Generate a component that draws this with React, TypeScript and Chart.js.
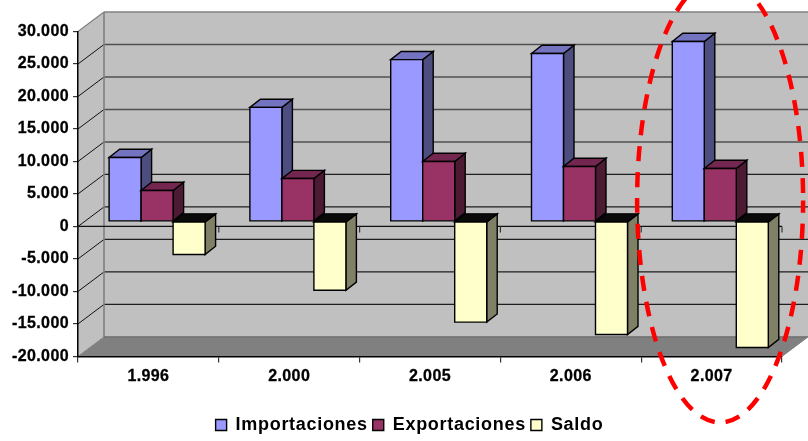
import React, { useEffect, useRef } from "react";
import { Chart, registerables } from "chart.js";

Chart.register(...registerables);

const years = ["1.996", "2.000", "2.005", "2.006", "2.007"];
const importaciones = [9850, 17550, 24900, 25850, 27700];
const exportaciones = [4770, 6600, 9230, 8460, 8150];
const saldo = [-5080, -10600, -15500, -17400, -19400];

const FONT = "'Liberation Sans', Arial, sans-serif";
const DEPTH_X = 26;
const DEPTH_Y = 19.5;
const BAR_SHIFT_X = 8.7;
const BAR_SHIFT_Y = 5;
const BAR_DEPTH_X = 10.5;
const BAR_DEPTH_Y = 8.2;

const faces: Record<string, { front: string; side: string; top: string }> = {
  Importaciones: { front: "#9999FF", side: "#4D4D80", top: "#7373BF" },
  Exportaciones: { front: "#993366", side: "#4D1A33", top: "#732650" },
  Saldo: { front: "#FFFFCC", side: "#808066", top: "#0A0A0A" },
};

function poly(ctx: CanvasRenderingContext2D, pts: number[][], fill?: string, stroke?: string, lw = 1) {
  ctx.beginPath();
  pts.forEach((p, i) => (i ? ctx.lineTo(p[0], p[1]) : ctx.moveTo(p[0], p[1])));
  ctx.closePath();
  if (fill) {
    ctx.fillStyle = fill;
    ctx.fill();
  }
  if (stroke) {
    ctx.strokeStyle = stroke;
    ctx.lineWidth = lw;
    ctx.stroke();
  }
}

function seg(ctx: CanvasRenderingContext2D, x1: number, y1: number, x2: number, y2: number, color: string, lw: number) {
  ctx.beginPath();
  ctx.moveTo(x1, y1);
  ctx.lineTo(x2, y2);
  ctx.strokeStyle = color;
  ctx.lineWidth = lw;
  ctx.stroke();
}

const box3d = {
  id: "box3d",
  beforeLayout(chart: any) {
    chart.ctx.letterSpacing = "0.7px";
    const legend = chart.legend;
    if (legend && !legend.__wrapped) {
      legend.__wrapped = true;
      const draw = legend.draw.bind(legend);
      legend.draw = (area: any) => {
        chart.ctx.save();
        chart.ctx.letterSpacing = "0.7px";
        draw(area);
        chart.ctx.restore();
      };
    }
  },
  afterLayout(chart: any) {
    const legend = chart.legend;
    const wanted = 409.5;
    const w = legend.right - legend.left;
    legend.left = wanted - w / 2;
    legend.right = wanted + w / 2;
    legend.top = 411;
    legend.bottom = legend.top + legend.height;
  },
  beforeDraw(chart: any) {
    const { ctx, chartArea: a, scales } = chart;
    const y = scales.y;
    ctx.letterSpacing = "0.4px";
    ctx.save();
    const L = a.left, R = a.right, T = a.top, B = a.bottom;
    // side wall, back wall, floor
    poly(ctx, [[L, T], [L + DEPTH_X, T - DEPTH_Y], [L + DEPTH_X, B - DEPTH_Y], [L, B]], "#C0C0C0");
    poly(ctx, [[L + DEPTH_X, T - DEPTH_Y], [R + DEPTH_X, T - DEPTH_Y], [R + DEPTH_X, B - DEPTH_Y], [L + DEPTH_X, B - DEPTH_Y]], "#C0C0C0");
    poly(ctx, [[L, B], [R, B], [R + DEPTH_X, B - DEPTH_Y], [L + DEPTH_X, B - DEPTH_Y]], "#808080");
    // gridlines
    y.ticks.forEach((t: any) => {
      const py = y.getPixelForValue(t.value);
      const isEdge = t.value === y.max || t.value === y.min;
      if (!isEdge) {
        seg(ctx, L + DEPTH_X, py - DEPTH_Y, R + DEPTH_X, py - DEPTH_Y, t.value > 5000 ? "#505050" : "#1E1E1E", t.value > 5000 ? 1.6 : 1.2);
        seg(ctx, L, py, L + DEPTH_X, py - DEPTH_Y, "#111111", 1);
      }
    });
    seg(ctx, L + DEPTH_X, T - DEPTH_Y, R + DEPTH_X, T - DEPTH_Y, "#808080", 1.6);
    seg(ctx, L, T, L + DEPTH_X, T - DEPTH_Y, "#808080", 1.2);
    seg(ctx, L + DEPTH_X, T - DEPTH_Y, L + DEPTH_X, B - DEPTH_Y, "#808080", 1.6);
    seg(ctx, L + DEPTH_X, B - DEPTH_Y, R + DEPTH_X, B - DEPTH_Y, "#6A6A6A", 1.2);
    seg(ctx, L, B, L + DEPTH_X, B - DEPTH_Y, "#808080", 1);
    seg(ctx, R, B, R + DEPTH_X, B - DEPTH_Y, "#808080", 1);
    ctx.restore();
  },
  beforeDatasetsDraw(chart: any) {
    const { ctx, chartArea: a, scales } = chart;
    const y0 = scales.y.getPixelForValue(0);
    const x = scales.x;
    const band = x.width / years.length;
    ctx.save();
    ctx.lineJoin = "miter";
    seg(ctx, a.left, y0, a.right, y0, "#111111", 1.2);
    for (let i = 0; i <= years.length; i++) {
      const px = a.left + i * band;
      seg(ctx, px, y0, px, y0 + 6, "#333333", 1.2);
    }
    chart.data.datasets.forEach((ds: any, di: number) => {
      const f = faces[ds.label];
      chart.getDatasetMeta(di).data.forEach((el: any) => {
        const p = el.getProps(["x", "y", "base", "width"], true);
        const x1 = p.x - p.width / 2 + BAR_SHIFT_X;
        const x2 = p.x + p.width / 2 + BAR_SHIFT_X;
        const top = Math.min(p.y, p.base) - BAR_SHIFT_Y;
        const bot = Math.max(p.y, p.base) - BAR_SHIFT_Y;
        const dx = BAR_DEPTH_X, dy = BAR_DEPTH_Y;
        poly(ctx, [[x2, top], [x2 + dx, top - dy], [x2 + dx, bot - dy], [x2, bot]], f.side, "#000", 1.4);
        poly(ctx, [[x1, top], [x2, top], [x2 + dx, top - dy], [x1 + dx, top - dy]], f.top, "#000", 1.4);
        poly(ctx, [[x1, top], [x2, top], [x2, bot], [x1, bot]], f.front, "#000", 1.4);
      });
    });
    ctx.restore();
    return false;
  },
  afterDraw(chart: any) {
    const { ctx, scales } = chart;
    const cx = scales.x.getPixelForValue(4) + 8.5;
    const cy = scales.y.getPixelForValue(4000);
    ctx.save();
    ctx.beginPath();
    ctx.ellipse(cx, cy, 83, 222, 0, 0, Math.PI * 2);
    ctx.setLineDash([15, 11]);
    ctx.lineDashOffset = 2.5;
    ctx.lineWidth = 4.5;
    ctx.strokeStyle = "#FF0000";
    ctx.stroke();
    ctx.restore();
  },
};

export default function App() {
  const ref = useRef<HTMLCanvasElement>(null);
  useEffect(() => {
    document.body.style.margin = "0";
    const tickFont = { family: FONT, size: 16, weight: "bold" };
    const chart = new Chart(ref.current as HTMLCanvasElement, {
      type: "bar",
      data: {
        labels: years,
        datasets: [
          { label: "Importaciones", data: importaciones, backgroundColor: "#9999FF", borderColor: "#000", borderWidth: 1.4 },
          { label: "Exportaciones", data: exportaciones, backgroundColor: "#993366", borderColor: "#000", borderWidth: 1.4 },
          { label: "Saldo", data: saldo, backgroundColor: "#FFFFCC", borderColor: "#000", borderWidth: 1.4 },
        ],
      },
      options: {
        animation: false,
        responsive: false,
        devicePixelRatio: 1,
        layout: { padding: { left: 0, right: 26, top: 31.5, bottom: 0 } },
        datasets: { bar: { categoryPercentage: 96 / 140.8, barPercentage: 1 } },
        plugins: {
          tooltip: { enabled: false },
          legend: {
            position: "bottom",
            labels: {
              boxWidth: 11,
              boxHeight: 11,
              padding: 5,
              color: "#000",
              font: { family: FONT, size: 18, weight: "bold" },
            },
          },
        },
        scales: {
          x: {
            grid: { drawOnChartArea: false, offset: true, tickLength: 6, color: "#333333", lineWidth: 1.2 },
            border: { color: "#000", width: 1.5 },
            ticks: { color: "#000", padding: 5, maxRotation: 0, autoSkip: false, font: tickFont, textStrokeWidth: 0.3, textStrokeColor: "#000" },
            afterFit: (s: any) => {
              s.height = 51.6;
            },
          },
          y: {
            min: -20000,
            max: 30000,
            grid: { drawOnChartArea: false, tickLength: 5, color: "#333333", lineWidth: 1.2 },
            border: { color: "#000", width: 1.5 },
            ticks: {
              stepSize: 5000,
              color: "#000",
              padding: 4,
              font: tickFont,
              textStrokeWidth: 0.3,
              textStrokeColor: "#000",
              callback: (v: any) => String(v).replace(/\B(?=(\d{3})+(?!\d))/g, "."),
            },
            afterFit: (s: any) => {
              s.width = 78;
            },
          },
        },
      },
      plugins: [box3d],
    } as any);
    return () => chart.destroy();
  }, []);
  return <canvas ref={ref} width={808} height={441} style={{ display: "block", width: 808, height: 441 }} />;
}
